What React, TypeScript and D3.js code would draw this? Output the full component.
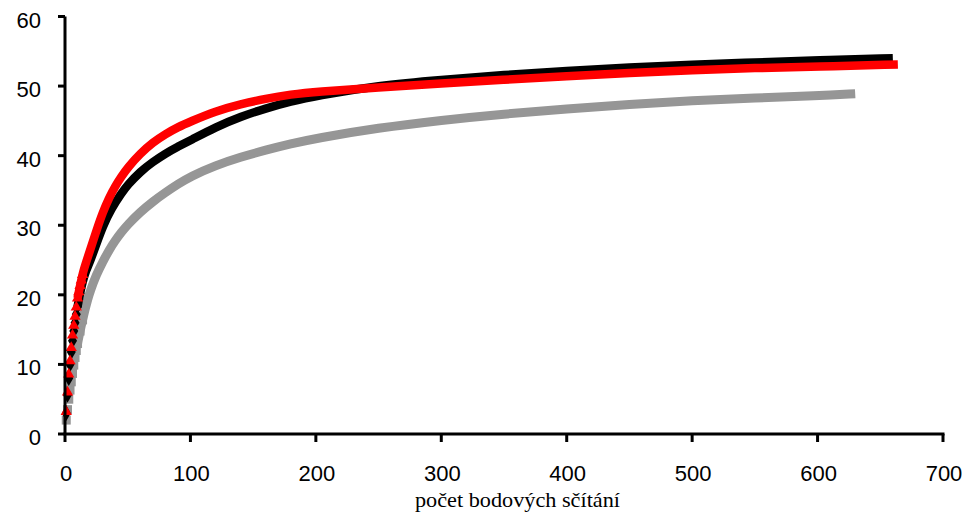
import { useEffect, useRef } from "react";
import * as d3 from "d3";

// sample sizes (number of point counts) and accumulated species
const blackN = [1, 2, 3, 4, 5, 6, 7, 8, 9, 10, 12, 14, 17, 20, 25, 30, 37, 45, 50, 60, 70, 80, 90, 100, 120, 140, 160, 180, 200, 250, 300, 350, 400, 450, 500, 550, 600, 660];
const blackS = [3.0, 5.6, 8.0, 10.0, 11.8, 13.4, 14.8, 16.0, 17.2, 18.3, 20.2, 21.9, 23.6, 24.8, 27.3, 29.8, 32.4, 34.6, 35.8, 37.7, 39.1, 40.3, 41.3, 42.2, 44.1, 45.6, 46.8, 47.8, 48.6, 50.1, 50.9, 51.6, 52.2, 52.7, 53.1, 53.4, 53.7, 54.0];

const redN = [1, 2, 3, 4, 5, 6, 7, 8, 9, 10, 11, 12, 13, 14, 15, 17, 20, 25, 30, 35, 40, 45, 50, 60, 70, 80, 90, 100, 120, 140, 160, 180, 200, 250, 300, 350, 400, 450, 500, 550, 600, 664];
const redS = [3.2, 6.0, 8.6, 10.5, 12.4, 14.2, 15.6, 16.9, 18.2, 19.5, 20.4, 21.3, 22.1, 22.9, 23.6, 24.8, 26.4, 29.2, 31.8, 33.9, 35.6, 37.0, 38.3, 40.3, 41.9, 43.1, 44.1, 44.9, 46.4, 47.4, 48.2, 48.8, 49.2, 49.8, 50.4, 50.9, 51.4, 51.9, 52.3, 52.6, 52.8, 53.1];

const grayN = [1, 2, 3, 4, 5, 6, 7, 8, 9, 10, 12, 14, 16, 18, 20, 25, 30, 35, 40, 45, 50, 60, 70, 80, 90, 100, 120, 140, 160, 180, 200, 250, 300, 350, 400, 450, 500, 550, 600, 630];
const grayS = [2.0, 3.5, 5.0, 6.3, 7.5, 8.7, 9.9, 11.0, 12.0, 13.0, 14.8, 16.4, 17.9, 19.3, 20.5, 22.9, 24.7, 26.4, 27.8, 29.0, 30.1, 31.9, 33.4, 34.7, 35.9, 37.0, 38.6, 39.8, 40.8, 41.7, 42.5, 44.0, 45.1, 46.0, 46.7, 47.4, 47.9, 48.3, 48.6, 48.9];

const xTicks = [0, 100, 200, 300, 400, 500, 600, 700];
const yTicks = [0, 10, 20, 30, 40, 50, 60];

const W = 967;
const H = 517;

export default function App() {
  const svgRef = useRef<SVGSVGElement>(null);

  useEffect(() => {
    if (!svgRef.current) return;
    const svg = d3.select(svgRef.current);
    svg.selectAll("*").remove();

    const x = d3.scaleLinear().domain([0, 700]).range([65, 943]);
    const y = d3.scaleLinear().domain([0, 60]).range([434, 16.5]);

    const series = [
      { n: grayN, s: grayS, color: "#969696", symbol: d3.symbolSquare, size: 81, width: 9 },
      { n: blackN, s: blackS, color: "#000000", symbol: d3.symbolDiamond, size: 70, width: 8.5 },
      { n: redN, s: redS, color: "#ff0000", symbol: d3.symbolTriangle, size: 55, width: 8.5 },
    ];

    const line = d3
      .line<[number, number]>()
      .x((d) => x(d[0]))
      .y((d) => y(d[1]))
      .curve(d3.curveBasis);

    series.forEach((sr) => {
      const pts: [number, number][] = sr.n.map((v, i) => [v, sr.s[i]]);
      svg
        .append("path")
        .attr("d", line(pts.filter((p) => p[0] >= 10)) || "")
        .attr("fill", "none")
        .attr("stroke", sr.color)
        .attr("stroke-width", sr.width)
        .attr("stroke-linecap", "butt");

      svg
        .append("g")
        .selectAll("path")
        .data(pts.filter((p) => p[0] <= 14))
        .join("path")
        .attr("transform", (d) => `translate(${x(d[0])},${y(d[1])})`)
        .attr("d", d3.symbol().type(sr.symbol).size(sr.size)() || "")
        .attr("fill", sr.color);
    });

    // axes
    const ax = svg.append("g").attr("stroke", "#000").attr("stroke-width", 3);
    ax.append("line").attr("x1", x(0)).attr("x2", x(0)).attr("y1", y(60)).attr("y2", y(0));
    ax.append("line").attr("x1", x(0) - 1.5).attr("x2", x(700) + 1.5).attr("y1", y(0)).attr("y2", y(0));
    ax.selectAll(".yt")
      .data(yTicks)
      .join("line")
      .attr("x1", x(0) - 7)
      .attr("x2", x(0))
      .attr("y1", (d) => y(d))
      .attr("y2", (d) => y(d));
    ax.selectAll(".xt")
      .data(xTicks)
      .join("line")
      .attr("x1", (d) => x(d))
      .attr("x2", (d) => x(d))
      .attr("y1", y(0))
      .attr("y2", y(0) + 8);

    svg
      .append("g")
      .selectAll("text")
      .data(yTicks)
      .join("text")
      .attr("x", 41)
      .attr("y", (d) => y(d) + 11)
      .attr("text-anchor", "end")
      .style("font-family", "'Liberation Sans', Arial, sans-serif")
      .style("font-size", "22px")
      .text((d) => d);

    svg
      .append("g")
      .selectAll("text")
      .data(xTicks)
      .join("text")
      .attr("x", (d) => x(d) + 1)
      .attr("y", 481)
      .attr("text-anchor", "middle")
      .style("font-family", "'Liberation Sans', Arial, sans-serif")
      .style("font-size", "22px")
      .text((d) => d);

    svg
      .append("text")
      .attr("x", 415)
      .attr("y", 507)
      .attr("textLength", 205)
      .attr("lengthAdjust", "spacingAndGlyphs")
      .style("font-family", "'Liberation Serif', 'Times New Roman', serif")
      .style("font-size", "22px")
      .text("počet bodových sčítání");
  }, []);

  return (
    <svg
      ref={svgRef}
      width={W}
      height={H}
      style={{ position: "absolute", left: 0, top: 0, background: "#fff" }}
    />
  );
}
